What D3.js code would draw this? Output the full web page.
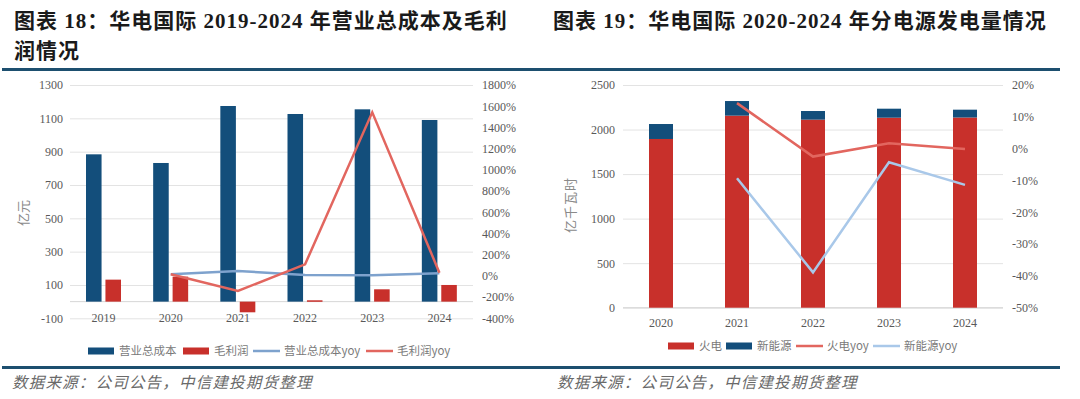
<!DOCTYPE html>
<html>
<head>
<meta charset="utf-8">
<script src="https://cdn.jsdelivr.net/npm/d3@7"></script>
<style>
  body { margin: 0; background: #fff; }
  svg { display: block; }
</style>
</head>
<body>
<svg id="chart" width="1080" height="399"></svg>
<script>
const svg = d3.select('#chart')
const darkBlue = '#134e7b'
const barRed = '#c8302b'
const lineRed = '#e2665f'
const gridColor = '#e3e3e3'
const axisText = '#595959'
const serif = '"Liberation Serif", "Times New Roman", serif'
const cjk = '"Noto Sans CJK SC", "Noto Sans", sans-serif'

// ---- chart 18 data
const years18 = ['2019', '2020', '2021', '2022', '2023', '2024']
const cost = [884, 832, 1174, 1126, 1154, 1090]
const profit = [132, 150, -64, 8, 74, 100]
const costYoy = [null, 15, 46, 8, 5, 25]
const profitYoy = [null, 15, -142, 109, 1542, 30]
const leftTicks18 = [-100, 100, 300, 500, 700, 900, 1100, 1300]
const rightTicks18 = [-400, -200, 0, 200, 400, 600, 800, 1000, 1200, 1400, 1600, 1800]

// ---- chart 19 data
const years19 = ['2020', '2021', '2022', '2023', '2024']
const thermal = [1894, 2156, 2111, 2133, 2135]
const renew = [168, 164, 97, 101, 88]
const thermalYoy = [null, 14.3, -2.5, 1.7, -0.1]
const renewYoy = [null, -9.3, -38.9, -4.3, -11.4]
const leftTicks19 = [0, 500, 1000, 1500, 2000, 2500]
const rightTicks19 = [-50, -40, -30, -20, -10, 0, 10, 20]

// titles and rules
const title = svg.append('g')
  .attr('font-family', `${serif.split(',')[0]}, ${cjk}`)
  .attr('font-weight', 'bold')
  .attr('font-size', '21px')
  .attr('fill', '#1a1a1a')
  .style('letter-spacing', '1px')
title.append('text').attr('x', 14).attr('y', 28).text('图表 18：华电国际 2019-2024 年营业总成本及毛利')
title.append('text').attr('x', 14).attr('y', 58).text('润情况')
title.append('text').attr('x', 553).attr('y', 28).text('图表 19：华电国际 2020-2024 年分电源发电量情况')

svg.append('line').attr('x1', 2).attr('x2', 1060).attr('y1', 69.5).attr('y2', 69.5)
  .attr('stroke', '#1d4f6f').attr('stroke-width', 3)
svg.append('line').attr('x1', 2).attr('x2', 1060).attr('y1', 367.5).attr('y2', 367.5)
  .attr('stroke', '#1d4f6f').attr('stroke-width', 3)

const src = svg.append('g')
  .attr('font-family', cjk)
  .attr('font-style', 'italic')
  .attr('font-size', '15.5px')
  .attr('fill', '#6a6a6a')
  .style('letter-spacing', '1.2px')
src.append('text').attr('x', 12).attr('y', 388).text('数据来源：公司公告，中信建投期货整理')
src.append('text').attr('x', 557).attr('y', 388).text('数据来源：公司公告，中信建投期货整理')

// ================= chart 18 =================
const x18 = d3.scaleBand().domain(years18).range([70, 473])
const xIn18 = d3.scaleBand().domain(['cost', 'profit']).range([16, 51]).paddingInner(0.2)
const yL18 = d3.scaleLinear().domain([-100, 1300]).range([318.3, 85])
const yR18 = d3.scaleLinear().domain([-400, 1800]).range([318.3, 85])

const g18 = svg.append('g')

g18.append('g')
  .call(d3.axisLeft(yL18).tickValues(leftTicks18).tickSize(-(473 - 70)).tickFormat(d => d))
  .attr('transform', 'translate(70,0)')
  .call(g => g.select('.domain').remove())
  .call(g => g.selectAll('.tick line').attr('stroke', gridColor))
  .call(g => g.selectAll('.tick text').attr('x', -7).attr('fill', axisText)
    .attr('font-family', serif).attr('font-size', '12px'))

g18.append('g')
  .attr('transform', 'translate(473,0)')
  .call(d3.axisRight(yR18).tickValues(rightTicks18).tickSize(0).tickFormat(d => d + '%'))
  .call(g => g.select('.domain').remove())
  .call(g => g.selectAll('.tick text').attr('x', 9).attr('fill', axisText)
    .attr('font-family', serif).attr('font-size', '12px'))

g18.append('line').attr('x1', 70).attr('x2', 473)
  .attr('y1', yL18(0)).attr('y2', yL18(0)).attr('stroke', '#d6d6d6')

g18.append('g')
  .attr('transform', `translate(0,${yL18(-100)})`)
  .call(d3.axisBottom(x18).tickSize(0))
  .call(g => g.select('.domain').remove())
  .call(g => g.selectAll('.tick text').attr('dy', '0.05em').attr('fill', axisText)
    .attr('font-family', serif).attr('font-size', '12px'))

g18.selectAll('rect.cost').data(cost).enter().append('rect')
  .attr('class', 'cost')
  .attr('x', (d, i) => x18(years18[i]) + xIn18('cost'))
  .attr('width', xIn18.bandwidth())
  .attr('y', d => yL18(Math.max(0, d)))
  .attr('height', d => Math.abs(yL18(d) - yL18(0)))
  .attr('fill', darkBlue)

g18.selectAll('rect.profit').data(profit).enter().append('rect')
  .attr('class', 'profit')
  .attr('x', (d, i) => x18(years18[i]) + xIn18('profit'))
  .attr('width', xIn18.bandwidth())
  .attr('y', d => yL18(Math.max(0, d)))
  .attr('height', d => Math.max(1.5, Math.abs(yL18(d) - yL18(0))))
  .attr('fill', barRed)

const cx18 = i => x18(years18[i]) + x18.bandwidth() / 2
const line18 = d3.line().defined(d => d != null).x((d, i) => cx18(i)).y(d => yR18(d))

g18.append('path').datum(costYoy).attr('d', line18)
  .attr('fill', 'none').attr('stroke', '#7ea2cd').attr('stroke-width', 2.5)
g18.append('path').datum(profitYoy).attr('d', line18)
  .attr('fill', 'none').attr('stroke', lineRed).attr('stroke-width', 2.5)

svg.append('text')
  .attr('transform', 'translate(28,213) rotate(-90)')
  .attr('text-anchor', 'middle')
  .attr('font-family', cjk).attr('font-size', '13px').attr('fill', '#8a8a8a')
  .text('亿元')

// legend 18
const leg18 = [
  { type: 'rect', color: darkBlue, label: '营业总成本', x: 88 },
  { type: 'rect', color: barRed, label: '毛利润', x: 183 },
  { type: 'line', color: '#7ea2cd', label: '营业总成本yoy', x: 253 },
  { type: 'line', color: lineRed, label: '毛利润yoy', x: 366 }
]

// ================= chart 19 =================
const x19 = d3.scaleBand().domain(years19).range([623, 1003])
const barW19 = 24
const yL19 = d3.scaleLinear().domain([0, 2500]).range([307.7, 85])
const yR19 = d3.scaleLinear().domain([-50, 20]).range([307.7, 85])

const g19 = svg.append('g')

g19.append('g')
  .attr('transform', 'translate(623,0)')
  .call(d3.axisLeft(yL19).tickValues(leftTicks19).tickSize(-(1003 - 623)).tickFormat(d => d))
  .call(g => g.select('.domain').remove())
  .call(g => g.selectAll('.tick line').attr('stroke', gridColor))
  .call(g => g.selectAll('.tick text').attr('x', -8).attr('fill', axisText)
    .attr('font-family', serif).attr('font-size', '12px'))

g19.append('g')
  .attr('transform', 'translate(1003,0)')
  .call(d3.axisRight(yR19).tickValues(rightTicks19).tickSize(0).tickFormat(d => d + '%'))
  .call(g => g.select('.domain').remove())
  .call(g => g.selectAll('.tick text').attr('x', 9).attr('fill', axisText)
    .attr('font-family', serif).attr('font-size', '12px'))

g19.append('line').attr('x1', 623).attr('x2', 1003)
  .attr('y1', yL19(0)).attr('y2', yL19(0)).attr('stroke', '#d6d6d6')

g19.append('g')
  .attr('transform', `translate(0,${yL19(0) + 8})`)
  .call(d3.axisBottom(x19).tickSize(0))
  .call(g => g.select('.domain').remove())
  .call(g => g.selectAll('.tick text').attr('fill', axisText)
    .attr('font-family', serif).attr('font-size', '12px'))

const bx19 = i => x19(years19[i]) + (x19.bandwidth() - barW19) / 2

g19.selectAll('rect.thermal').data(thermal).enter().append('rect')
  .attr('class', 'thermal')
  .attr('x', (d, i) => bx19(i))
  .attr('width', barW19)
  .attr('y', d => yL19(d))
  .attr('height', d => yL19(0) - yL19(d))
  .attr('fill', barRed)

g19.selectAll('rect.renew').data(renew).enter().append('rect')
  .attr('class', 'renew')
  .attr('x', (d, i) => bx19(i))
  .attr('width', barW19)
  .attr('y', (d, i) => yL19(thermal[i] + d))
  .attr('height', (d, i) => yL19(thermal[i]) - yL19(thermal[i] + d))
  .attr('fill', darkBlue)

const cx19 = i => x19(years19[i]) + x19.bandwidth() / 2
const line19 = d3.line().defined(d => d != null).x((d, i) => cx19(i)).y(d => yR19(d))

g19.append('path').datum(thermalYoy).attr('d', line19)
  .attr('fill', 'none').attr('stroke', lineRed).attr('stroke-width', 2.5)
g19.append('path').datum(renewYoy).attr('d', line19)
  .attr('fill', 'none').attr('stroke', '#a9c8e9').attr('stroke-width', 2.5)

svg.append('text')
  .attr('transform', 'translate(575,205) rotate(-90)')
  .attr('text-anchor', 'middle')
  .attr('font-family', cjk).attr('font-size', '13px').attr('fill', '#8a8a8a')
  .style('letter-spacing', '1px')
  .text('亿千瓦时')

const leg19 = [
  { type: 'rect', color: barRed, label: '火电', x: 668 },
  { type: 'rect', color: darkBlue, label: '新能源', x: 726 },
  { type: 'line', color: lineRed, label: '火电yoy', x: 796 },
  { type: 'line', color: '#a9c8e9', label: '新能源yoy', x: 873 }
]

function drawLegend(items, y) {
  const g = svg.append('g')
    .attr('font-family', cjk).attr('font-size', '11.5px').attr('fill', '#7a7a7a')
  items.forEach(it => {
    if (it.type === 'rect') {
      g.append('rect').attr('x', it.x).attr('y', y - 3.5).attr('width', 26).attr('height', 7).attr('fill', it.color)
    } else {
      g.append('line').attr('x1', it.x).attr('x2', it.x + 27).attr('y1', y).attr('y2', y)
        .attr('stroke', it.color).attr('stroke-width', 2.5)
    }
    g.append('text').attr('x', it.x + 31).attr('y', y).attr('dy', '0.36em').text(it.label)
  })
}
drawLegend(leg18, 351)
drawLegend(leg19, 346)
</script>
</body>
</html>
